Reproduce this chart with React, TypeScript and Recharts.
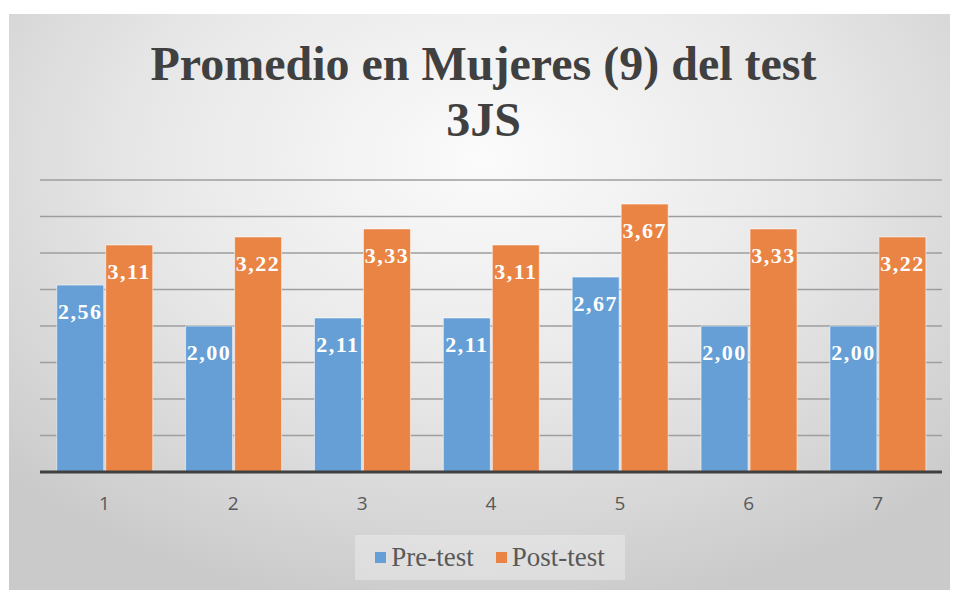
import { BarChart, Bar, XAxis, YAxis, CartesianGrid, LabelList } from "recharts";

const categories = ["1", "2", "3", "4", "5", "6", "7"];
const preTest = [2.56, 2.0, 2.11, 2.11, 2.67, 2.0, 2.0];
const postTest = [3.11, 3.22, 3.33, 3.11, 3.67, 3.33, 3.22];
const yTicks = [0, 0.5, 1, 1.5, 2, 2.5, 3, 3.5, 4];

const seriesNames = { pre: "Pre-test", post: "Post-test" };
const colors = { pre: "#659fd6", post: "#ea8444" };

const data = categories.map((c, i) => ({
  cat: c,
  pre: preTest[i],
  post: postTest[i],
}));

const fmt = (v: number) => v.toFixed(2).replace(".", ",");

const serif = "'Liberation Serif', 'Times New Roman', serif";

function BarLabel(props: any) {
  const { x, y, width, value } = props;
  return (
    <text
      x={x + width / 2}
      y={y + 34}
      textAnchor="middle"
      fill="#ffffff"
      fontFamily={serif}
      fontWeight="bold"
      fontSize={22}
      letterSpacing={1.5}
    >
      {fmt(value)}
    </text>
  );
}

export default function App() {
  return (
    <div
      style={{
        position: "relative",
        marginLeft: 1,
        marginTop: 6,
        width: 949,
        height: 576,
        background:
          "radial-gradient(ellipse 70% 80% at 50% 25%, #fbfbfb 0%, #e8e8e8 50%, #cacaca 100%)",
      }}
    >
      {/* title */}
      <div
        style={{
          position: "absolute",
          left: 0,
          width: 949,
          top: 22,
          textAlign: "center",
          fontFamily: serif,
          fontWeight: "bold",
          fontSize: 48,
          lineHeight: "56px",
          color: "#404040",
        }}
      >
        Promedio en Mujeres (9) del test
        <br />
        3JS
      </div>

      <BarChart
        width={949}
        height={576}
        data={data}
        margin={{ top: 166, right: 16, bottom: 88, left: 31 }}
        barCategoryGap="13%"
        barGap={2}
      >
        <CartesianGrid vertical={false} stroke="#9e9e9e" strokeWidth={1.5} />
        <YAxis hide domain={[0, 4]} ticks={yTicks} />
        <XAxis
          dataKey="cat"
          tickLine={false}
          axisLine={{ stroke: "#404040", strokeWidth: 3 }}
          tickMargin={19}
          tick={{ fill: "#595959", fontSize: 19, fontFamily: "'Open Sans', sans-serif" }}
        />
        <Bar
          dataKey="pre"
          name={seriesNames.pre}
          fill={colors.pre}
          stroke="rgba(255,255,255,0.55)"
          strokeWidth={1}
          isAnimationActive={false}
        >
          <LabelList dataKey="pre" content={BarLabel} />
        </Bar>
        <Bar
          dataKey="post"
          name={seriesNames.post}
          fill={colors.post}
          stroke="rgba(255,255,255,0.55)"
          strokeWidth={1}
          isAnimationActive={false}
        >
          <LabelList dataKey="post" content={BarLabel} />
        </Bar>
      </BarChart>

      {/* legend */}
      <div
        style={{
          position: "absolute",
          left: 346,
          top: 521,
          width: 270,
          height: 45,
          background: "rgba(255,255,255,0.3)",
          display: "flex",
          alignItems: "center",
          justifyContent: "center",
          fontFamily: serif,
          fontSize: 27,
          color: "#595959",
        }}
      >
        {(["pre", "post"] as const).map((k, i) => (
          <div
            key={k}
            style={{ display: "flex", alignItems: "center", marginLeft: i ? 22 : 0 }}
          >
            <span
              style={{
                display: "inline-block",
                width: 11,
                height: 11,
                background: colors[k],
                marginRight: 5,
              }}
            />
            {seriesNames[k]}
          </div>
        ))}
      </div>
    </div>
  );
}
